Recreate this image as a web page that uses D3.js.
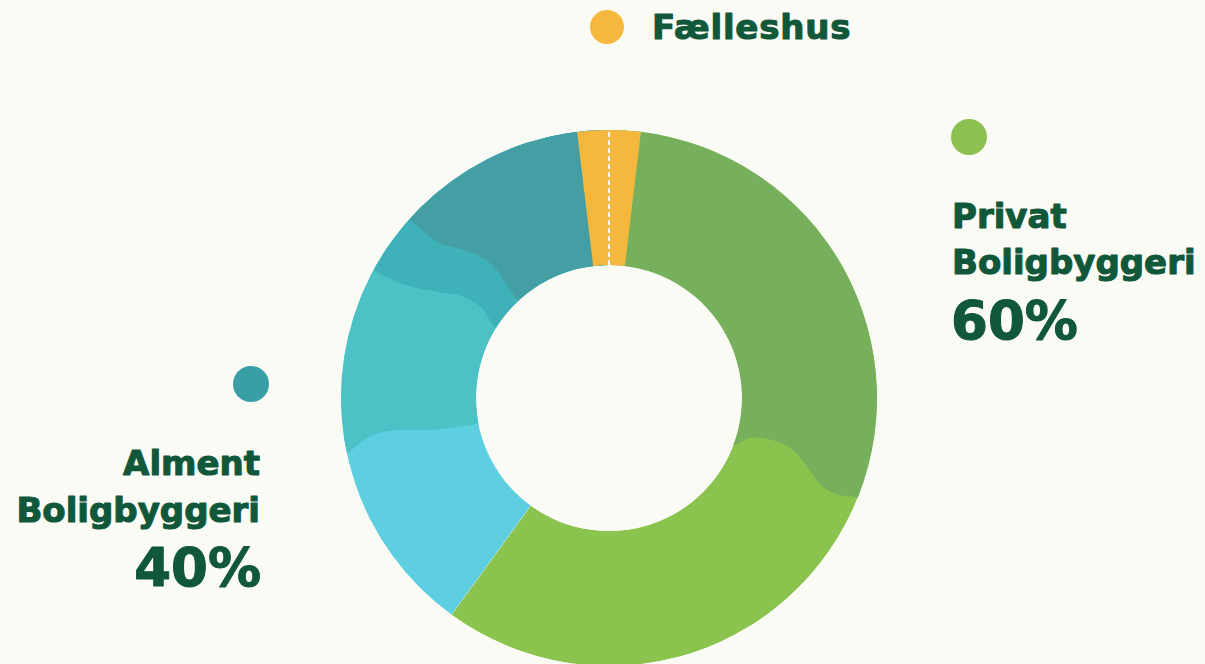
<!DOCTYPE html>
<html>
<head>
<meta charset="utf-8">
<script src="https://cdn.jsdelivr.net/npm/d3@7"></script>
<style>
  html, body { margin: 0; padding: 0; background: #fbfbf5; }
  svg { display: block; }
  text { font-family: "DejaVu Sans", sans-serif; font-weight: bold; fill: #11583a;
         stroke: #11583a; stroke-width: 1.1px; stroke-linejoin: round; }
</style>
</head>
<body>
<svg id="chart" width="1205" height="664"></svg>
<script>
// Shares of housing construction (percent of the ring)
const categories = ["Privat Boligbyggeri", "Alment Boligbyggeri"];
const shares = [60, 40];
// Common house share, drawn across the seam between the two groups
const sharedLabel = "Fælleshus";
const sharedShare = 3.8;

// Ring colours and decorative tonal bands inside each slice.
// A band boundary is a wavy line given as [t, angleDeg] pairs,
// t = 0 at the inner edge, t = 1 at the outer edge.
const sliceStyle = [
  {
    base: "#8bc34f",
    bands: [
      { color: "#77b05d", towards: "start",
        edge: [[0,110.8],[0.1,105.8],[0.27,104.4],[0.43,105.8],[0.59,109.7],[0.73,112.6],[0.87,112.8],[1,111.8]] }
    ],
    dot: "#8cc152"
  },
  {
    base: "#5dcfe0",
    bands: [
      { color: "#4cc2c7", towards: "end",
        edge: [[0,259],[0.06,259],[0.24,259.4],[0.41,260.2],[0.6,261.4],[0.78,261.1],[0.89,259.7],[1,258]] },
      { color: "#3fb2b9", towards: "end",
        edge: [[0,301.6],[0.07,303.2],[0.18,305.3],[0.33,304.8],[0.49,302.1],[0.65,299.8],[0.8,298.7],[1,298.5]] },
      { color: "#449fa5", towards: "end",
        edge: [[0,317],[0.1,317.5],[0.27,318.8],[0.41,318],[0.56,315.4],[0.71,312.5],[0.8,312],[1,311.8]] }
    ],
    dot: "#3a9ea6"
  }
];
const sharedColor = "#f5b83d";

const W = 1205, H = 664;
const cx = 609, cy = 398;
const rOuter = 268, rInner = 133;

const svg = d3.select("#chart");
const g = svg.append("g").attr("transform", `translate(${cx},${cy})`);

const pie = d3.pie().sort(null).value(d => d).startAngle(0).endAngle(2 * Math.PI);
const slices = pie(shares);
const arc = d3.arc().innerRadius(rInner).outerRadius(rOuter);

const rad = d => d * Math.PI / 180;
const pt = (a, r) => [r * Math.sin(a), -r * Math.cos(a)];

// Path of a tonal band: the wavy edge, then round the ring to farAngle
function bandPath(edge, farAngle) {
  const pad = 6;
  const rA = rInner - pad, rB = rOuter + pad;
  const pts = edge.map(([t, a]) => pt(rad(a), rInner + t * (rOuter - rInner)));
  pts.unshift(pt(rad(edge[0][1]), rA));
  pts.push(pt(rad(edge[edge.length - 1][1]), rB));
  let d = d3.line().curve(d3.curveCatmullRom)(pts);
  const a1 = rad(edge[edge.length - 1][1]), a0 = rad(edge[0][1]);
  const n = 80;
  for (let i = 0; i <= n; i++) {
    const p = pt(a1 + (farAngle - a1) * i / n, rB);
    d += `L${p[0]},${p[1]}`;
  }
  for (let i = 0; i <= n; i++) {
    const p = pt(farAngle + (a0 - farAngle) * i / n, rA);
    d += `L${p[0]},${p[1]}`;
  }
  return d + "Z";
}

const defs = svg.append("defs");
slices.forEach((s, i) => {
  defs.append("clipPath").attr("id", `slice-clip-${i}`)
    .append("path").attr("d", arc(s));
});

slices.forEach((s, i) => {
  const st = sliceStyle[i];
  const layer = g.append("g").attr("clip-path", `url(#slice-clip-${i})`);
  layer.append("path").attr("d", arc(s)).attr("fill", st.base);
  st.bands.forEach(b => {
    const far = b.towards === "start" ? s.startAngle - 0.1 : s.endAngle + 0.1;
    layer.append("path").attr("d", bandPath(b.edge, far)).attr("fill", b.color);
  });
});

// Common house wedge straddling the seam at the top
const seam = slices[0].startAngle;
const half = sharedShare / 100 * Math.PI;
g.append("path")
  .attr("d", arc({ startAngle: seam - half, endAngle: seam + half }))
  .attr("fill", sharedColor);
const s0 = pt(seam, rInner), s1 = pt(seam, rOuter);
g.append("line")
  .attr("x1", s0[0]).attr("y1", s0[1]).attr("x2", s1[0]).attr("y2", s1[1])
  .attr("stroke", "#fff8e6").attr("stroke-width", 2)
  .attr("stroke-dasharray", "5,3");

// Labels
const fmt = v => `${v}%`;

// Common house legend
svg.append("circle").attr("cx", 607).attr("cy", 27).attr("r", 17).attr("fill", sharedColor);
svg.append("text").attr("x", 652).attr("y", 39).attr("font-size", 34)
  .attr("letter-spacing", 0.8).text(sharedLabel);

// Private housing (right side, left aligned)
const right = svg.append("g");
right.append("circle").attr("cx", 969).attr("cy", 137).attr("r", 18).attr("fill", sliceStyle[0].dot);
const rLines = categories[0].split(" ");
right.append("text").attr("x", 952).attr("y", 228).attr("font-size", 34).text(rLines[0]);
right.append("text").attr("x", 952).attr("y", 274).attr("font-size", 34).text(rLines[1]);
right.append("text").attr("x", 951).attr("y", 339).attr("font-size", 53).text(fmt(shares[0]));

// Social housing (left side, right aligned)
const left = svg.append("g").attr("text-anchor", "end");
left.append("circle").attr("cx", 251).attr("cy", 384).attr("r", 18).attr("fill", sliceStyle[1].dot);
const lLines = categories[1].split(" ");
left.append("text").attr("x", 260).attr("y", 475).attr("font-size", 34).text(lLines[0]);
left.append("text").attr("x", 260).attr("y", 522).attr("font-size", 34).text(lLines[1]);
left.append("text").attr("x", 261).attr("y", 586).attr("font-size", 53).text(fmt(shares[1]));
</script>
</body>
</html>
